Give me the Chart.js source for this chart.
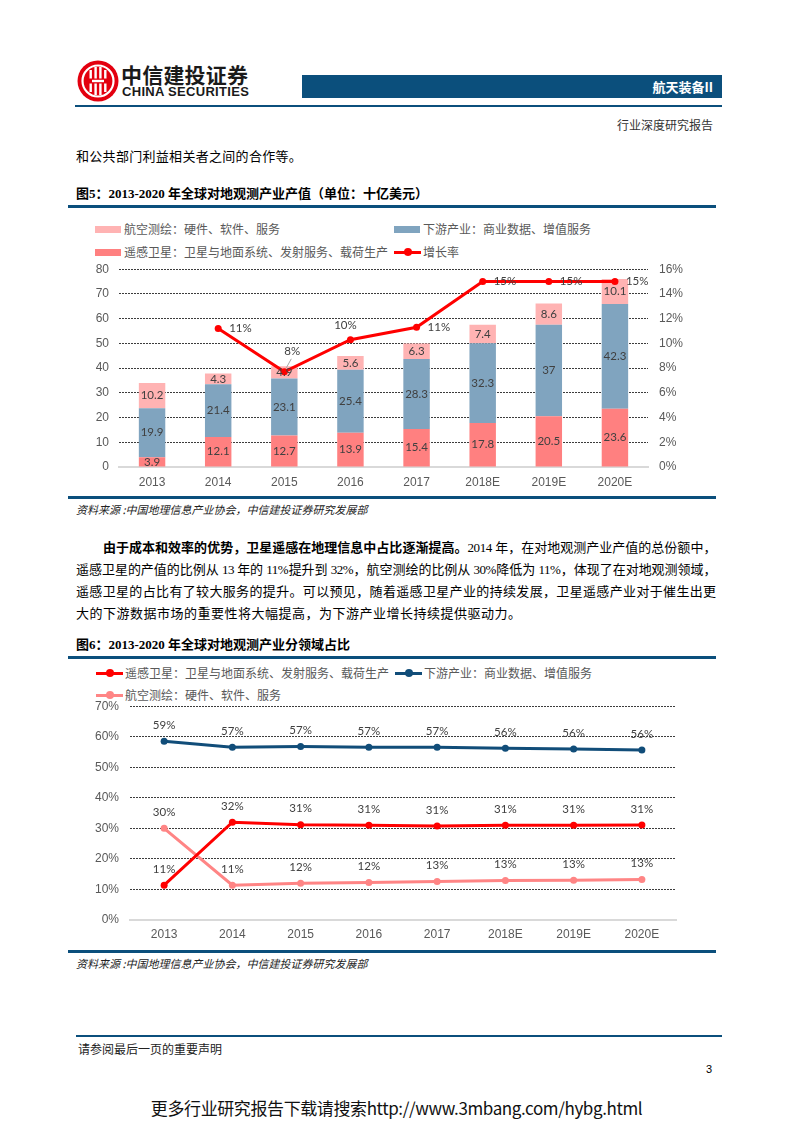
<!DOCTYPE html>
<html lang="zh-CN">
<head>
<meta charset="utf-8">
<title>航天装备II 行业深度研究报告</title>
<script src="https://cdn.jsdelivr.net/npm/chart.js@4.4.1/dist/chart.umd.min.js"></script>
<style>
  body { margin: 0; background: #fff; }
  #page { position: relative; width: 793px; height: 1122px; overflow: hidden;
          font-family: "Noto Sans CJK SC", sans-serif; color: #000; }
  .t { position: absolute; white-space: nowrap; height: 20px; line-height: 20px; }
  .rule { position: absolute; background: #0b4f7c; }
  .para { position: absolute; left: 76px; width: 640px; height: 22px; line-height: 22px;
          font-family: "Liberation Serif", "Noto Sans CJK SC", serif; font-size: 13px; }
  .just { text-align: justify; text-align-last: justify; }
  .cap { font-family: "Liberation Serif", "Noto Sans CJK SC", serif; font-weight: bold; font-size: 13px; }
  .src { font-size: 11px; font-style: italic; color: #222; }
  .lg { font-size: 12px; color: #595959; }
  canvas { position: absolute; }
</style>
</head>
<body>
<div id="page">
  <svg style="position:absolute;left:77px;top:59px" width="42" height="44" viewBox="0 0 42 44">
    <circle cx="21" cy="22" r="20.5" fill="#e3000f"/>
    <circle cx="21" cy="22" r="15.5" fill="none" stroke="#fff" stroke-width="2.2"/>
    <rect x="12.5" y="11" width="2.4" height="22" fill="#fff"/>
    <rect x="17.4" y="8" width="2.4" height="28" fill="#fff"/>
    <rect x="22.2" y="8" width="2.4" height="28" fill="#fff"/>
    <rect x="27.1" y="11" width="2.4" height="22" fill="#fff"/>
    <rect x="10" y="19.5" width="22" height="5" fill="#e3000f"/>
    <rect x="15" y="20.8" width="12" height="2.4" fill="#fff"/>
  </svg>
  <div class="t" style="left:121px;top:64px;font-size:21px;font-weight:bold;color:#1a1a1a;letter-spacing:0.2px">中信建投证券</div>
  <div class="t" style="left:122px;top:82px;font-family:'Liberation Sans',sans-serif;font-size:13px;font-weight:bold;color:#1a1a1a;letter-spacing:0.3px">CHINA SECURITIES</div>
  <div style="position:absolute;left:302px;top:75px;width:420px;height:23px;background:#0b4f7c"></div>
  <div class="t" style="left:302px;top:77px;width:411px;text-align:right;color:#fff;font-size:13px;font-weight:bold">航天装备II</div>
  <div class="rule" style="left:75px;top:105px;width:647px;height:1.5px"></div>
  <div class="t" style="left:600px;top:115px;width:113px;text-align:right;font-size:12px;color:#333">行业深度研究报告</div>

  <div class="para" style="top:146px;letter-spacing:0.3px">和公共部门利益相关者之间的合作等。</div>

  <div class="t cap" style="left:76px;top:184px">图5：2013-2020 年全球对地观测产业产值（单位：十亿美元）</div>
  <div class="rule" style="left:68px;top:205px;width:648px;height:2.5px"></div>
  <div id="legend1"></div>
  <canvas id="valueChart" width="660" height="245" style="left:60px;top:251px;width:660px;height:245px"></canvas>
  <div class="rule" style="left:68px;top:496px;width:648px;height:2.5px"></div>
  <div class="t src" style="left:76px;top:499px">资料来源 :中国地理信息产业协会，中信建投证券研究发展部</div>

  <div class="para just" style="top:536px;padding-left:27px;width:613px;letter-spacing:-0.4px"><b style="font-family:'Noto Sans CJK SC'">由于成本和效率的优势，卫星遥感在地理信息中占比逐渐提高。</b>2014 年，在对地观测产业产值的总份额中，</div>
  <div class="para just" style="top:559px;letter-spacing:-0.5px">遥感卫星的产值的比例从 13 年的 11%提升到 32%，航空测绘的比例从 30%降低为 11%，体现了在对地观测领域，</div>
  <div class="para just" style="top:581px;letter-spacing:-0.1px">遥感卫星的占比有了较大服务的提升。可以预见，随着遥感卫星产业的持续发展，卫星遥感产业对于催生出更</div>
  <div class="para" style="top:603px;letter-spacing:0.5px">大的下游数据市场的重要性将大幅提高，为下游产业增长持续提供驱动力。</div>

  <div class="t cap" style="left:76px;top:635px">图6：2013-2020 年全球对地观测产业分领域占比</div>
  <div class="rule" style="left:68px;top:656px;width:648px;height:2.5px"></div>
  <div id="legend2"></div>
  <canvas id="shareChart" width="660" height="262" style="left:60px;top:688px;width:660px;height:262px"></canvas>
  <div class="rule" style="left:68px;top:950px;width:648px;height:2.5px"></div>
  <div class="t src" style="left:76px;top:953px">资料来源 :中国地理信息产业协会，中信建投证券研究发展部</div>

  <div class="rule" style="left:76px;top:1035px;width:646px;height:1.5px"></div>
  <div class="t" style="left:78px;top:1039px;font-size:12px;color:#222">请参阅最后一页的重要声明</div>
  <div class="t" style="left:706px;top:1059px;font-size:11px;font-family:'Liberation Sans',sans-serif">3</div>
  <div class="t" style="left:0;top:1096px;width:793px;height:24px;line-height:24px;text-align:center;font-size:17px;letter-spacing:-0.4px;color:#111">更多行业研究报告下载请搜索http://www.3mbang.com/hybg.html</div>
</div>

<script>
// ---- data ----
const years = ['2013', '2014', '2015', '2016', '2017', '2018E', '2019E', '2020E'];

// 图5 产值（十亿美元）
const remoteSensing = [3.9, 12.1, 12.7, 13.9, 15.4, 17.8, 20.5, 23.6];
const downstream    = [19.9, 21.4, 23.1, 25.4, 28.3, 32.3, 37, 42.3];
const aerial        = [10.2, 4.3, 4.9, 5.6, 6.3, 7.4, 8.6, 10.1];
const growthRate    = [null, 11.2, 7.7, 10.3, 11.3, 15.0, 15.0, 15.0];

// 图6 占比（%）
const shareRemote     = [11.4, 32.0, 31.2, 31.0, 30.8, 31.0, 31.0, 31.1];
const shareDownstream = [58.5, 56.6, 56.8, 56.6, 56.6, 56.2, 56.0, 55.7];
const shareAerial     = [30.0, 11.4, 12.0, 12.3, 12.6, 12.9, 13.0, 13.3];

const nameRemote = '遥感卫星：卫星与地面系统、发射服务、载荷生产';
const nameDownstream = '下游产业：商业数据、增值服务';
const nameAerial = '航空测绘：硬件、软件、服务';
const nameGrowth = '增长率';

const valueTicks = { min: 0, max: 80, step: 10 };
const growthTicks = { min: 0, max: 16, step: 2 };
const shareTicks = { min: 0, max: 70, step: 10 };

// ---- colours ----
const C_RED_BAR = '#ff8080';
const C_BLUE_BAR = '#80a4bf';
const C_PINK_BAR = '#ffb3b3';
const C_RED = '#ff0000';
const C_NAVY = '#114d79';
const C_PINK = '#ff8585';

Chart.defaults.font.family = '"Liberation Sans", Arial, sans-serif';
Chart.defaults.font.size = 12;
Chart.defaults.color = '#595959';

// html legends, laid out like the original (two columns)
const drawLegend = (el, items) => {
    items.forEach(it => {
        if (it.kind === 'box') {
            el.insertAdjacentHTML('beforeend',
                `<div style="position:absolute;left:${it.x}px;top:${it.y - 3.5}px;width:26px;height:7px;background:${it.color}"></div>`);
        } else {
            el.insertAdjacentHTML('beforeend',
                `<div style="position:absolute;left:${it.x}px;top:${it.y - 1.5}px;width:27px;height:3px;background:${it.color}"></div>` +
                `<div style="position:absolute;left:${it.x + 9.5}px;top:${it.y - 4}px;width:8px;height:8px;border-radius:50%;background:${it.color}"></div>`);
        }
        el.insertAdjacentHTML('beforeend',
            `<div class="t lg" style="left:${it.x + 29}px;top:${it.y - 10}px">${it.name}</div>`);
    });
};

drawLegend(document.getElementById('legend1'), [
    { name: nameAerial, color: C_PINK_BAR, kind: 'box', x: 95, y: 229 },
    { name: nameDownstream, color: C_BLUE_BAR, kind: 'box', x: 394, y: 229 },
    { name: nameRemote, color: C_RED_BAR, kind: 'box', x: 95, y: 252 },
    { name: nameGrowth, color: C_RED, kind: 'line', x: 394, y: 252 }
]);
drawLegend(document.getElementById('legend2'), [
    { name: nameRemote, color: C_RED, kind: 'line', x: 96, y: 673 },
    { name: nameDownstream, color: C_NAVY, kind: 'line', x: 395, y: 673 },
    { name: nameAerial, color: C_PINK, kind: 'line', x: 96, y: 695 }
]);

// data labels drawn on top of bars / points
const dataLabels = {
    id: 'dataLabels',
    afterDatasetsDraw(chart) {
        const ctx = chart.ctx;
        chart.data.datasets.forEach((ds, i) => {
            if (!ds.labelMode) return;
            const meta = chart.getDatasetMeta(i);
            meta.data.forEach((el, j) => {
                const v = ds.data[j];
                if (v === null || v === undefined) return;
                const text = ds.labelFormat ? ds.labelFormat(v) : String(v);
                const place = Array.isArray(ds.labelMode) ? ds.labelMode[j] : ds.labelMode;
                ctx.save();
                ctx.font = '11.5px Lato, "Liberation Sans", sans-serif';
                ctx.fillStyle = '#404040';
                ctx.textBaseline = 'middle';
                ctx.textAlign = 'center';
                if (place === 'center') {
                    ctx.fillText(text, el.x, (el.y + el.base) / 2);
                } else if (place === 'right') {
                    ctx.textAlign = 'left';
                    ctx.fillText(text, el.x + 11, el.y);
                } else if (place === 'leader') {
                    ctx.strokeStyle = '#a6a6a6';
                    ctx.lineWidth = 1;
                    ctx.beginPath();
                    ctx.moveTo(el.x + 2, el.y - 4);
                    ctx.lineTo(el.x + 7, el.y - 13);
                    ctx.stroke();
                    ctx.fillText(text, el.x + 8, el.y - 21);
                } else if (place === 'topleft') {
                    ctx.fillText(text, el.x - 5, el.y - 14);
                } else {
                    ctx.fillText(text, el.x, el.y - 16);
                }
                ctx.restore();
            });
        });
    }
};

const dottedGrid = c => (c.tick && c.tick.value === 0) ? 'rgba(0,0,0,0)' : '#3c3c3c';
const pct = v => Math.round(v) + '%';

// ---- 图5 ----
new Chart(document.getElementById('valueChart'), {
    data: {
        labels: years,
        datasets: [
            { type: 'line', label: nameGrowth, data: growthRate, yAxisID: 'y1', order: 0,
              borderColor: C_RED, backgroundColor: C_RED, borderWidth: 3,
              pointRadius: 3.5, pointBackgroundColor: C_RED, pointBorderWidth: 0,
              labelMode: [null, 'right', 'leader', 'topleft', 'right', 'right', 'right', 'right'],
              labelFormat: pct },
            { type: 'bar', label: nameRemote, data: remoteSensing, backgroundColor: C_RED_BAR, order: 1,
              stack: 'value', labelMode: 'center' },
            { type: 'bar', label: nameDownstream, data: downstream, backgroundColor: C_BLUE_BAR, order: 1,
              stack: 'value', labelMode: 'center' },
            { type: 'bar', label: nameAerial, data: aerial, backgroundColor: C_PINK_BAR, order: 1,
              stack: 'value', labelMode: 'center' }
        ]
    },
    options: {
        responsive: false,
        animation: false,
        barPercentage: 0.4,
        categoryPercentage: 1,
        layout: { padding: 0 },
        plugins: { legend: { display: false }, tooltip: { enabled: false } },
        scales: {
            x: {
                stacked: true,
                grid: { display: false },
                border: { display: true, color: '#d9d9d9', width: 2 },
                ticks: { padding: 0 },
                afterFit: s => { s.height = 29; }
            },
            y: {
                stacked: true,
                min: valueTicks.min, max: valueTicks.max,
                ticks: { stepSize: valueTicks.step, padding: 10 },
                grid: { color: dottedGrid, drawTicks: false },
                border: { display: false, dash: [2, 1] },
                afterFit: s => { s.width = 59; }
            },
            y1: {
                position: 'right',
                min: growthTicks.min, max: growthTicks.max,
                ticks: { stepSize: growthTicks.step, padding: 11, callback: v => v + '%' },
                grid: { drawOnChartArea: false, drawTicks: false },
                border: { display: false },
                afterFit: s => { s.width = 72; }
            }
        }
    },
    plugins: [dataLabels]
});

// ---- 图6 ----
const shareLine = (label, data, color) => ({
    label, data,
    borderColor: color, backgroundColor: color, borderWidth: 3,
    pointRadius: 3.5, pointBackgroundColor: color, pointBorderWidth: 0,
    labelMode: 'top', labelFormat: pct
});

new Chart(document.getElementById('shareChart'), {
    type: 'line',
    data: {
        labels: years,
        datasets: [
            shareLine(nameRemote, shareRemote, C_RED),
            shareLine(nameDownstream, shareDownstream, C_NAVY),
            shareLine(nameAerial, shareAerial, C_PINK)
        ]
    },
    options: {
        responsive: false,
        animation: false,
        layout: { padding: { top: 0, left: 0, right: 44, bottom: 0 } },
        plugins: { legend: { display: false }, tooltip: { enabled: false } },
        scales: {
            x: {
                offset: true,
                grid: { display: false, offset: true },
                border: { display: true, color: '#d9d9d9', width: 2 },
                ticks: { padding: -1 },
                afterFit: s => { s.height = 30; }
            },
            y: {
                min: shareTicks.min, max: shareTicks.max,
                ticks: { stepSize: shareTicks.step, padding: 11, callback: v => v + '%' },
                grid: { color: dottedGrid, drawTicks: false },
                border: { display: false, dash: [2, 1] },
                afterFit: s => { s.width = 70; }
            }
        }
    },
    plugins: [dataLabels]
});
</script>
</body>
</html>
